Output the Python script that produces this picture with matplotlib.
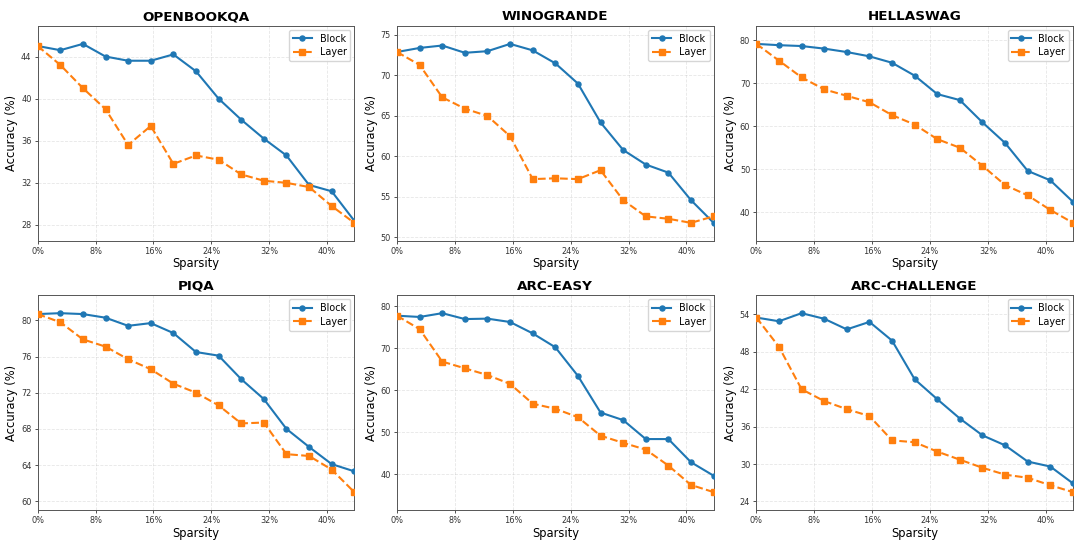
import matplotlib
matplotlib.use("Agg")
import matplotlib.pyplot as plt
import numpy as np
from matplotlib.ticker import FuncFormatter

sparsity = [i * 3.125 for i in range(15)]

titles = ["OPENBOOKQA", "WINOGRANDE", "HELLASWAG", "PIQA", "ARC-EASY", "ARC-CHALLENGE"]

obqa_block = [45.0, 44.6, 45.2, 44.0, 43.6, 43.6, 44.2, 42.6, 40.0, 38.0, 36.2, 34.6, 31.8, 31.2, 28.4]
obqa_layer = [45.0, 43.2, 41.0, 39.0, 35.6, 37.4, 33.8, 34.6, 34.2, 32.8, 32.2, 32.0, 31.6, 29.8, 28.2]

wino_block = [72.9, 73.4, 73.7, 72.8, 73.0, 73.9, 73.1, 71.5, 69.0, 64.2, 60.8, 59.0, 58.0, 54.6, 51.8]
wino_layer = [72.9, 71.3, 67.3, 65.9, 65.0, 62.5, 57.2, 57.3, 57.2, 58.3, 54.6, 52.6, 52.3, 51.8, 52.6]

hella_block = [79.2, 78.9, 78.7, 78.1, 77.3, 76.3, 74.8, 71.8, 67.5, 66.1, 60.9, 56.1, 49.6, 47.4, 42.4]
hella_layer = [79.2, 75.3, 71.4, 68.6, 67.1, 65.6, 62.6, 60.4, 57.0, 55.0, 50.8, 46.3, 43.9, 40.5, 37.5]

piqa_block = [80.7, 80.8, 80.7, 80.3, 79.4, 79.7, 78.6, 76.5, 76.1, 73.5, 71.3, 68.0, 66.0, 64.1, 63.3]
piqa_layer = [80.7, 79.8, 77.9, 77.1, 75.7, 74.6, 73.0, 72.0, 70.6, 68.6, 68.7, 65.2, 65.0, 63.5, 61.0]

arce_block = [77.7, 77.4, 78.3, 76.9, 77.0, 76.2, 73.5, 70.2, 63.4, 54.7, 52.9, 48.4, 48.4, 42.9, 39.7]
arce_layer = [77.7, 74.5, 66.8, 65.2, 63.6, 61.5, 56.8, 55.6, 53.6, 49.2, 47.5, 45.9, 42.1, 37.5, 35.8]

arcc_block = [53.5, 52.9, 54.2, 53.3, 51.6, 52.8, 49.8, 43.6, 40.4, 37.3, 34.6, 33.0, 30.4, 29.6, 26.9]
arcc_layer = [53.5, 48.8, 42.0, 40.1, 38.8, 37.7, 33.8, 33.5, 32.0, 30.7, 29.4, 28.3, 27.8, 26.6, 25.5]

block_series = [obqa_block, wino_block, hella_block, piqa_block, arce_block, arcc_block]
layer_series = [obqa_layer, wino_layer, hella_layer, piqa_layer, arce_layer, arcc_layer]

x_ticks = [0, 8, 16, 24, 32, 40]
y_ticks = [
    [28, 32, 36, 40, 44],
    [50, 55, 60, 65, 70, 75],
    [40, 50, 60, 70, 80],
    [60, 64, 68, 72, 76, 80],
    [40, 50, 60, 70, 80],
    [24, 30, 36, 42, 48, 54],
]

fig, axes = plt.subplots(2, 3, figsize=(10.79, 5.45), dpi=100)
fig.subplots_adjust(left=0.0349, right=0.9944, top=0.9523, bottom=0.0642,
                    wspace=0.135, hspace=0.254)

for ax, title, b, l, yt in zip(axes.flat, titles, block_series, layer_series, y_ticks):
    ax.plot(sparsity, b, color="#1f77b4", marker="o", linestyle="-",
            linewidth=1.5, markersize=3.6, label="Block", zorder=3)
    ax.plot(sparsity, l, color="#ff7f0e", marker="s", linestyle="--",
            linewidth=1.5, markersize=3.8, label="Layer", zorder=3)
    ax.set_title(title, fontsize=9.7, fontweight="bold", pad=4)
    ax.set_xlabel("Sparsity", fontsize=8.3, labelpad=1)
    ax.set_ylabel("Accuracy (%)", fontsize=8.3, labelpad=2)
    ax.set_xlim(sparsity[0], sparsity[-1])
    lo = min(min(b), min(l))
    hi = max(max(b), max(l))
    pad = 0.1 * (hi - lo)
    ax.set_ylim(lo - pad, hi + pad)
    ax.set_xticks(x_ticks)
    ax.xaxis.set_major_formatter(FuncFormatter(lambda v, p: f"{v:.0f}%"))
    ax.set_yticks(yt)
    ax.tick_params(labelsize=5.9, length=2.4, width=0.6, pad=2, colors="#333333")
    ax.grid(True, linestyle="--", alpha=0.3, linewidth=0.6)
    for s in ax.spines.values():
        s.set_linewidth(0.7)
        s.set_color("#555555")
    ax.legend(loc="upper right", fontsize=6.9, handlelength=2.0,
              borderpad=0.4, labelspacing=0.4, handletextpad=0.8, borderaxespad=0.4)

fig.savefig("out.png", dpi=100)
